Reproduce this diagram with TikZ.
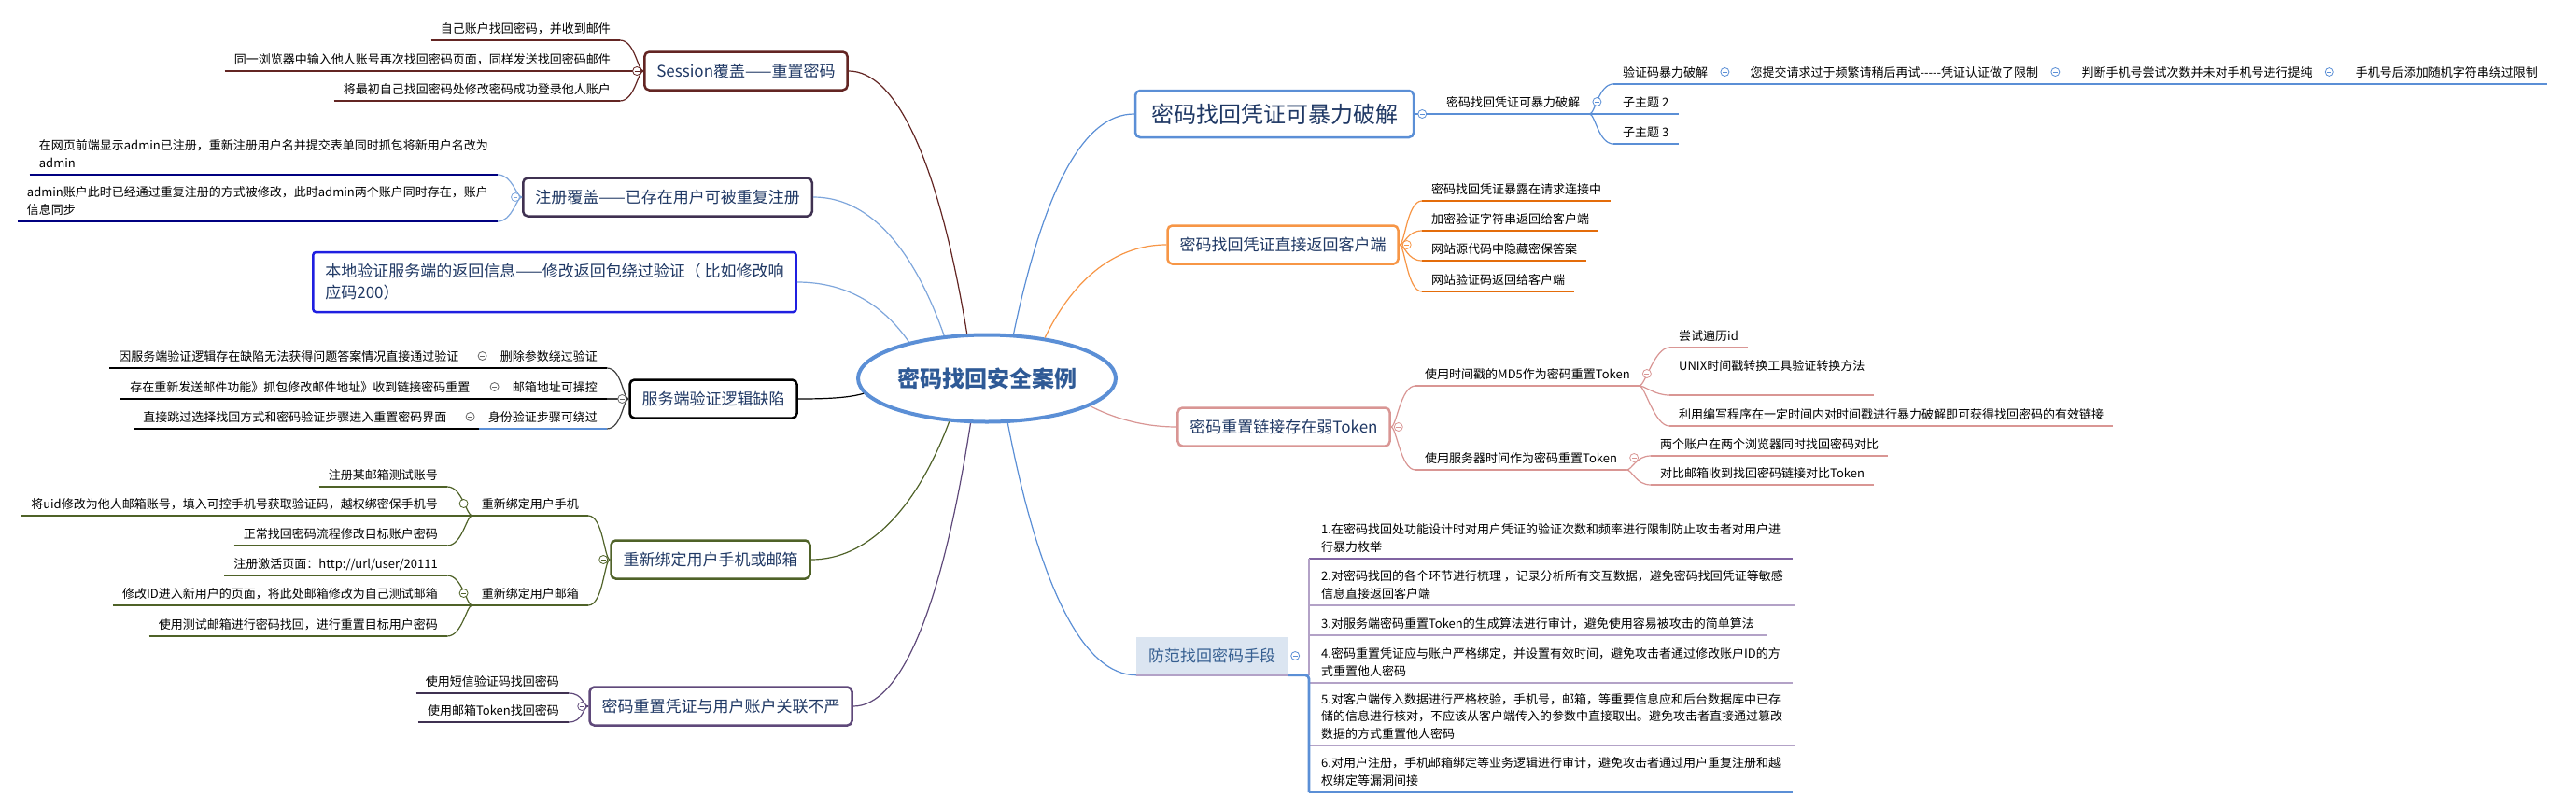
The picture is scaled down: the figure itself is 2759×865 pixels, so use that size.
\documentclass[tikz,border=0pt]{standalone}
\usepackage{fontspec}
\setmainfont{Noto Sans CJK SC}
\usetikzlibrary{positioning,shapes.geometric}
\definecolor{mapink}{HTML}{1F3864}
\definecolor{maptitle}{HTML}{2F5A96}
\definecolor{mapsoft}{HTML}{365F91}
\definecolor{mapblue}{HTML}{5B8FD6}
\definecolor{mapsky}{HTML}{7EA6DC}
\definecolor{maporange}{HTML}{F79646}
\definecolor{maporangedk}{HTML}{E46C0A}
\definecolor{mappink}{HTML}{D99694}
\definecolor{mapbrown}{HTML}{632523}
\definecolor{mapplum}{HTML}{3F3151}
\definecolor{mapnavy}{HTML}{000080}
\definecolor{mapvivid}{HTML}{1F1FE0}
\definecolor{mapolive}{HTML}{4F6228}
\definecolor{mapviolet}{HTML}{5F497A}
\definecolor{maplilac}{HTML}{B3A2C7}
\definecolor{mapgrape}{HTML}{8064A2}
\definecolor{mappale}{HTML}{DBE5F1}
\begin{document}
\begin{tikzpicture}[x=1pt,y=-1pt,
  every node/.style={font=\fontsize{13}{18.5}\selectfont},
  topic/.style={draw=#1, line width=2.5pt, rounded corners=5pt, fill=white, text=mapink,
    font=\fontsize{17}{23}\selectfont, inner xsep=13pt, minimum height=41pt},
  leaf/.style={inner xsep=10pt, inner ysep=2pt, execute at end node=\strut},
  con/.style={draw=#1, line width=1.2pt},
  ul/.style={draw=#1, line width=2.8pt},
  fanr/.style={to path={.. controls +(6,0) and +(-16,0) .. (\tikztotarget) \tikztonodes}},
  fanl/.style={to path={.. controls +(-6,0) and +(16,0) .. (\tikztotarget) \tikztonodes}},
  tog/.style={circle, draw=#1, fill=white, line width=0.8pt, minimum size=9pt, inner sep=0pt,
    path picture={\draw[#1, line width=0.8pt] ([xshift=-2.4pt]path picture bounding box.center)
      -- ([xshift=2.4pt]path picture bounding box.center);}}]
\path[use as bounding box, fill=white] (0,0) rectangle (2759,865);

\node[ellipse, draw=mapblue, line width=4pt, fill=white, minimum width=276pt, minimum height=93pt,
  inner sep=0pt, text=maptitle, font=\fontsize{24}{28}\selectfont\bfseries] (root) at (1057,405) {密码找回安全案例};

\node[topic=mapblue, font=\fontsize{24}{30}\selectfont, minimum height=50pt, inner xsep=17pt] (r1) at (1365,122) {密码找回凭证可暴力破解};
\node[leaf, anchor=south west] (r1a) at (1539,122) {密码找回凭证可暴力破解};
\node[leaf, anchor=south west] (r1b) at (1728,90) {验证码暴力破解};
\node[leaf, anchor=south west] (r1c) at (1728,122) {子主题 2};
\node[leaf, anchor=south west] (r1d) at (1728,154) {子主题 3};
\node[leaf, right=25pt of r1b.south east, anchor=south west] (r1e) {您提交请求过于频繁请稍后再试-{}-{}-{}-{}-凭证认证做了限制};
\node[leaf, right=26pt of r1e.south east, anchor=south west] (r1f) {判断手机号尝试次数并未对手机号进行提纯};
\node[leaf, right=26pt of r1f.south east, anchor=south west] (r1g) {手机号后添加随机字符串绕过限制};

\node[topic=maporange] (r2) at (1374,262) {密码找回凭证直接返回客户端};
\node[leaf, anchor=south west] (r2a) at (1523,215) {密码找回凭证暴露在请求连接中};
\node[leaf, anchor=south west] (r2b) at (1523,247) {加密验证字符串返回给客户端};
\node[leaf, anchor=south west] (r2c) at (1523,279) {网站源代码中隐藏密保答案};
\node[leaf, anchor=south west] (r2d) at (1523,312) {网站验证码返回给客户端};

\node[topic=mappink] (r3) at (1375,457) {密码重置链接存在弱Token};
\node[leaf, anchor=south west] (r3a) at (1516,413) {使用时间戳的MD5作为密码重置Token};
\node[leaf, anchor=south west] (r3b) at (1516,503) {使用服务器时间作为密码重置Token};
\node[leaf, anchor=south west] (r3c) at (1788,372) {尝试遍历id};
\node[leaf, anchor=south west, align=left] (r3d) at (1788,423) {UNIX时间戳转换工具验证转换方法\\~};
\node[leaf, anchor=south west] (r3e) at (1788,456) {利用编写程序在一定时间内对时间戳进行暴力破解即可获得找回密码的有效链接};
\node[leaf, anchor=south west] (r3f) at (1768,488) {两个账户在两个浏览器同时找回密码对比};
\node[leaf, anchor=south west] (r3g) at (1768,519) {对比邮箱收到找回密码链接对比Token};

\node[fill=mappale, text=mapsoft, font=\fontsize{17}{23}\selectfont, inner xsep=13pt, minimum height=41pt] (r4) at (1298,702) {防范找回密码手段};
\node[leaf, align=left, inner xsep=13pt, anchor=south west] (p1) at (1402,598) {1.在密码找回处功能设计时对用户凭证的验证次数和频率进行限制防止攻击者对用户进\\行暴力枚举};
\node[leaf, align=left, inner xsep=13pt, anchor=south west] (p2) at (1402,648) {2.对密码找回的各个环节进行梳理 ，记录分析所有交互数据，避免密码找回凭证等敏感\\信息直接返回客户端};
\node[leaf, align=left, inner xsep=13pt, anchor=south west] (p3) at (1402,680) {3.对服务端密码重置Token的生成算法进行审计，避免使用容易被攻击的简单算法};
\node[leaf, align=left, inner xsep=13pt, anchor=south west] (p4) at (1402,731) {4.密码重置凭证应与账户严格绑定，并设置有效时间，避免攻击者通过修改账户ID的方\\式重置他人密码};
\node[leaf, align=left, inner xsep=13pt, anchor=south west] (p5) at (1402,798) {5.对客户端传入数据进行严格校验，手机号，邮箱，等重要信息应和后台数据库中已存\\储的信息进行核对，不应该从客户端传入的参数中直接取出。避免攻击者直接通过篡改\\数据的方式重置他人密码};
\node[leaf, align=left, inner xsep=13pt, anchor=south west] (p6) at (1402,848) {6.对用户注册，手机邮箱绑定等业务逻辑进行审计，避免攻击者通过用户重复注册和越\\权绑定等漏洞间接};

\node[topic=mapbrown] (l1) at (799,76) {Session覆盖——重置密码};
\node[leaf, anchor=south east] (l1a) at (664,43) {自己账户找回密码，并收到邮件};
\node[leaf, anchor=south east] (l1b) at (664,76) {同一浏览器中输入他人账号再次找回密码页面，同样发送找回密码邮件};
\node[leaf, anchor=south east] (l1c) at (664,108) {将最初自己找回密码处修改密码成功登录他人账户};

\node[topic=mapplum] (l2) at (715,211) {注册覆盖——已存在用户可被重复注册};
\node[leaf, align=left, anchor=south east] (l2a) at (533,187) {在网页前端显示admin已注册，重新注册用户名并提交表单同时抓包将新用户名改为\\admin};
\node[leaf, align=left, anchor=south east] (l2b) at (533,237) {admin账户此时已经通过重复注册的方式被修改，此时admin两个账户同时存在，账户\\信息同步};

\node[topic=mapvivid, align=left, minimum height=64pt, rounded corners=3pt] (l3) at (594,302) {本地验证服务端的返回信息——修改返回包绕过验证（ 比如修改响\\应码200）};

\node[topic=black] (l4) at (764,427) {服务端验证逻辑缺陷};
\node[leaf, anchor=south east] (l4a) at (650,394) {删除参数绕过验证};
\node[leaf, anchor=south east] (l4b) at (650,427) {邮箱地址可操控};
\node[leaf, anchor=south east] (l4c) at (650,459) {身份验证步骤可绕过};
\node[leaf, left=24pt of l4a.south west, anchor=south east] (l4d) {因服务端验证逻辑存在缺陷无法获得问题答案情况直接通过验证};
\node[leaf, left=25pt of l4b.south west, anchor=south east] (l4e) {存在重新发送邮件功能》抓包修改邮件地址》收到链接密码重置};
\node[leaf, left=24pt of l4c.south west, anchor=south east] (l4f) {直接跳过选择找回方式和密码验证步骤进入重置密码界面};

\node[topic=mapolive] (l5) at (761,599) {重新绑定用户手机或邮箱};
\node[leaf, anchor=south east] (l5a) at (630,552) {重新绑定用户手机};
\node[leaf, anchor=south east] (l5b) at (630,648) {重新绑定用户邮箱};
\node[leaf, anchor=south east] (l5c) at (479,521) {注册某邮箱测试账号};
\node[leaf, anchor=south east] (l5d) at (479,552) {将uid修改为他人邮箱账号，填入可控手机号获取验证码，越权绑密保手机号};
\node[leaf, anchor=south east] (l5e) at (479,584) {正常找回密码流程修改目标账户密码};
\node[leaf, anchor=south east] (l5f) at (479,616) {注册激活页面：http://url/user/20111};
\node[leaf, anchor=south east] (l5g) at (479,648) {修改ID进入新用户的页面，将此处邮箱修改为自己测试邮箱};
\node[leaf, anchor=south east] (l5h) at (479,681) {使用测试邮箱进行密码找回，进行重置目标用户密码};

\node[topic=mapviolet] (l6) at (772,756) {密码重置凭证与用户账户关联不严};
\node[leaf, anchor=south east] (l6a) at (609,742) {使用短信验证码找回密码};
\node[leaf, anchor=south east] (l6b) at (609,773) {使用邮箱Token找回密码};

\draw[con=mapblue] (root.59) .. controls +(33,-157) and +(-54,0) .. (r1.west);
\draw[con=maporange] (root.35) .. controls +(32,-66) and +(-52,0) .. (r2.west);
\draw[con=mappink] (root.345) .. controls +(23,12) and +(-37,0) .. (r3.west);
\draw[con=mapblue] (root.295) .. controls +(34,177) and +(-56,0) .. (r4.south west);
\draw[con=mapbrown] (root.114) .. controls +(-31,-188) and +(50,0) .. (l1.east);
\draw[con=mapsky] (root.135) .. controls +(-35,-99) and +(57,0) .. (l2.east);
\draw[con=mapsky] (root.155) .. controls +(-30,-43) and +(49,0) .. (l3.east);
\draw[con=black] (root.187) .. controls +(-17,5) and +(28,0) .. (l4.east);
\draw[con=mapolive] (root.229) .. controls +(-36,96) and +(59,0) .. (l5.east);
\draw[con=mapviolet] (root.250) .. controls +(-31,199) and +(51,0) .. (l6.east);

\draw[con=mapblue] (r1.east) -- (r1a.south west);
\foreach \c in {r1b,r1c,r1d} \draw[con=mapblue, fanr] (r1a.south east) to (\c.south west);
\draw[con=mapblue] (r1b.south east) -- (r1e.south west) (r1e.south east) -- (r1f.south west)
  (r1f.south east) -- (r1g.south west);
\foreach \c in {r2a,r2b,r2c,r2d} \draw[con=maporange, fanr] (r2.east) to (\c.south west);
\foreach \c in {r3a,r3b} \draw[con=mappink, fanr] (r3.east) to (\c.south west);
\foreach \c in {r3c,r3d,r3e} \draw[con=mappink, fanr] (r3a.south east) to (\c.south west);
\foreach \c in {r3f,r3g} \draw[con=mappink, fanr] (r3b.south east) to (\c.south west);
\foreach \c in {l1a,l1b,l1c} \draw[con=mapbrown, fanl] (l1.west) to (\c.south east);
\foreach \c in {l2a,l2b} \draw[con=mapsky, fanl] (l2.west) to (\c.south east);
\foreach \c in {l4a,l4b,l4c} \draw[con=black!75, fanl] (l4.west) to (\c.south east);
\draw[con=black] (l4a.south west) -- (l4d.south east) (l4b.south west) -- (l4e.south east)
  (l4c.south west) -- (l4f.south east);
\foreach \c in {l5a,l5b} \draw[con=mapolive, fanl] (l5.west) to (\c.south east);
\foreach \c in {l5c,l5d,l5e} \draw[con=mapolive, fanl] (l5a.south west) to (\c.south east);
\foreach \c in {l5f,l5g,l5h} \draw[con=mapolive, fanl] (l5b.south west) to (\c.south east);
\foreach \c in {l6a,l6b} \draw[con=mapviolet, fanl] (l6.west) to (\c.south east);

\foreach \n in {r1a,r1b,r1c,r1d,r1e,r1f,r1g,p6,l4c} \draw[ul=mapblue] (\n.south west) -- (\n.south east);
\foreach \n in {r2a,r2b,r2c,r2d} \draw[ul=maporangedk] (\n.south west) -- (\n.south east);
\foreach \n in {r3a,r3b,r3c,r3d,r3e,r3f,r3g} \draw[ul=mappink] (\n.south west) -- (\n.south east);
\foreach \n in {p2,p3,p4,p5} \draw[ul=maplilac] (\n.south west) -- (\n.south east);
\draw[ul=mapgrape] (p1.south west) -- (p1.south east);
\foreach \n in {l1a,l1b,l1c} \draw[ul=mapbrown] (\n.south west) -- (\n.south east);
\foreach \n in {l2a,l2b} \draw[ul=mapnavy] (\n.south west) -- (\n.south east);
\foreach \n in {l4a,l4b,l4d,l4e,l4f} \draw[ul=black] (\n.south west) -- (\n.south east);
\foreach \n in {l5a,l5b,l5c,l5d,l5e,l5f,l5g,l5h} \draw[ul=mapolive] (\n.south west) -- (\n.south east);
\foreach \n in {l6a,l6b} \draw[ul=mapplum] (\n.south west) -- (\n.south east);

\draw[ul=maplilac] (r4.south west) -- (r4.south east);
\draw[ul=maplilac] (p1.south west) -- (p1.south west |- r4.south);
\draw[ul=mapblue, rounded corners=4pt] (r4.south east) -| (p6.south west);

\foreach \n/\c in {r1/mapblue,r2/maporange,r3/mappink,r4/mapblue}
  \node[tog=\c] (t\n) at ([xshift=8pt]\n.east) {};
\foreach \n/\c in {l1/mapbrown,l2/mapsky,l4/black!60,l5/mapolive,l6/mapviolet}
  \node[tog=\c] (t\n) at ([xshift=-7pt]\n.west) {};
\foreach \n/\c in {r1a/mapblue,r1b/mapblue,r1e/mapblue,r1f/mapblue,r3a/mappink,r3b/mappink}
  \node[tog=\c] (t\n) at ([shift={(8,-13)}]\n.south east) {};
\foreach \n/\c in {l4a/black!60,l4b/black!60,l4c/black!60,l5a/mapolive,l5b/mapolive}
  \node[tog=\c] (t\n) at ([shift={(-9,-13)}]\n.south west) {};
\end{tikzpicture}
\end{document}
